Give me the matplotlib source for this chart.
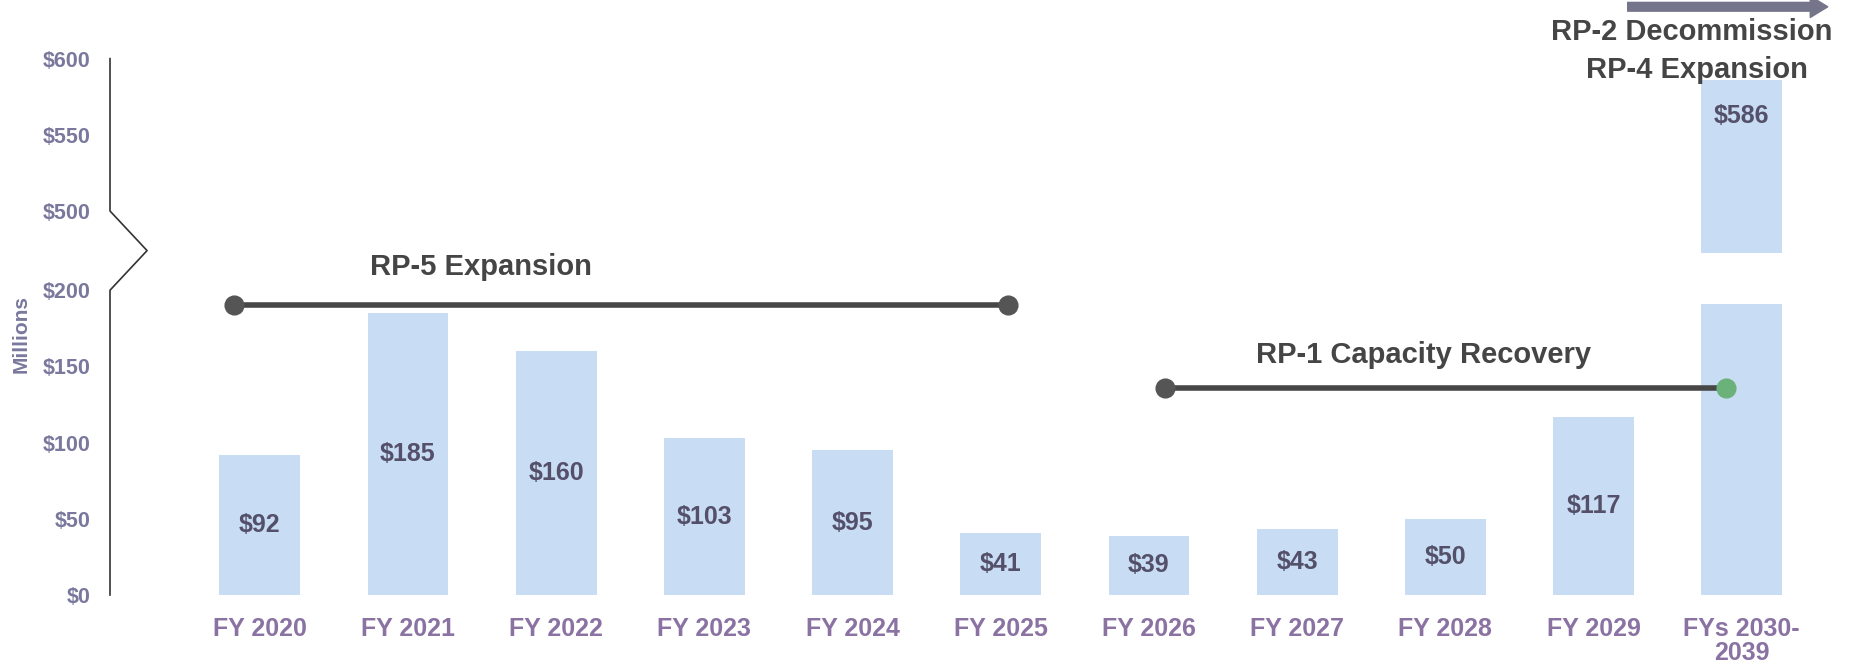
import numpy as np
import matplotlib
matplotlib.use("Agg")
import matplotlib.pyplot as plt
import matplotlib.transforms as mtransforms

# ---- data ----
years = ["FY 2020", "FY 2021", "FY 2022", "FY 2023", "FY 2024", "FY 2025",
         "FY 2026", "FY 2027", "FY 2028", "FY 2029", "FYs 2030-\n2039"]
spend = [92, 185, 160, 103, 95, 41, 39, 43, 50, 117, 586]

ytick_vals = [0, 50, 100, 150, 200, 500, 550, 600]
ytick_labels = ["$0", "$50", "$100", "$150", "$200", "$500", "$550", "$600"]

# project spans (x in bar-index units, y in $M)
rp5_x = [-0.17, 5.05]
rp5_y = [190, 190]
rp1_x = [6.11, 9.89]
rp1_y = [136, 136]

BAR_COLOR = "#c8ddf4"
LINE_COLOR = "#474747"
TICK_COLOR = "#7a789c"
XLAB_COLOR = "#8a72a2"
VAL_COLOR = "#54506a"
FONT = "Liberation Sans"

plt.rcParams["font.family"] = [FONT, "DejaVu Sans"]
plt.rcParams["font.weight"] = "bold"


# broken axis: 200..500 squeezed into a short span
def fwd(v):
    v = np.asarray(v, dtype=float)
    return np.where(v <= 200, v, np.where(v < 500, 200 + (v - 200) * 52 / 300, v - 248))


def inv(d):
    d = np.asarray(d, dtype=float)
    return np.where(d <= 200, d, np.where(d < 252, 200 + (d - 200) * 300 / 52, d + 248))


fig = plt.figure(figsize=(18.5, 6.69), dpi=100)
ax = fig.add_axes([110 / 1850, 1 - 595 / 669, 1740 / 1850, 548.6 / 669])
ax.set_yscale("function", functions=(fwd, inv))
ax.set_ylim(0, inv(360))
ax.set_xlim(-1.01, 10.73)

x = np.arange(len(years))
ax.bar(x, spend, width=0.545, color=BAR_COLOR, zorder=2)

# white gap where the tall bar crosses the axis break
ax.axhspan(191, 340, color="white", zorder=2.5, lw=0)

for xi, v in zip(x, spend):
    ypos = v / 2 if v <= 200 else v - 24
    ax.text(xi, ypos, f"${v}", ha="center", va="center", fontsize=18,
            color=VAL_COLOR, fontweight="bold", zorder=4)

# project span lines
ax.plot(rp5_x, rp5_y, color=LINE_COLOR, lw=4, zorder=5, solid_capstyle="butt")
ax.plot(rp5_x, rp5_y, "o", color="#555555", ms=13.5, zorder=6)
ax.plot(rp1_x, rp1_y, color=LINE_COLOR, lw=4, zorder=5, solid_capstyle="butt")
ax.plot(rp1_x[0], rp1_y[0], "o", color="#555555", ms=13.5, zorder=6)
ax.plot(rp1_x[1], rp1_y[1], "o", color="#6ab27a", ms=13.5, zorder=6)

ax.text(1.49, 258, "RP-5 Expansion", ha="center", va="baseline", fontsize=21,
        color="#454545", fontweight="bold")
ax.text(7.85, 152, "RP-1 Capacity Recovery", ha="center", va="baseline", fontsize=21,
        color="#454545", fontweight="bold")
ax.text(9.66, 612, "RP-2 Decommission", ha="center", va="baseline", fontsize=21,
        color="#454545", fontweight="bold", clip_on=False)
ax.text(9.70, 587, "RP-4 Expansion", ha="center", va="baseline", fontsize=21,
        color="#454545", fontweight="bold", clip_on=False)
ax.annotate("", xy=(10.58, 634), xytext=(9.23, 634), annotation_clip=False,
            arrowprops=dict(arrowstyle="simple,head_width=1.1,head_length=0.9,tail_width=0.45",
                            color="#74748a", mutation_scale=14, shrinkA=0, shrinkB=0))

# axes styling
for s in ax.spines.values():
    s.set_visible(False)
trans = mtransforms.blended_transform_factory(ax.transAxes, ax.transData)
ax.plot([0, 0, 0.0213, 0, 0], [0, 200, 350, 500, 600], color="#333333", lw=1.2,
        transform=trans, clip_on=False, zorder=7)

ax.set_yticks(ytick_vals)
ax.set_yticklabels(ytick_labels)
ax.tick_params(axis="y", length=0, pad=14, labelsize=15.5, labelcolor=TICK_COLOR)
ax.set_xticks(x)
ax.set_xticklabels(years, linespacing=1.05)
ax.tick_params(axis="x", length=0, pad=15.5, labelsize=18, labelcolor=XLAB_COLOR)
for lbl in ax.get_xticklabels() + ax.get_yticklabels():
    lbl.set_fontweight("bold")

fig.text(21 / 1850, 1 - 334 / 669, "Millions", rotation=90, ha="center", va="center",
         fontsize=15, color=TICK_COLOR, fontweight="bold")

fig.savefig("out.png", dpi=100, facecolor="white")
